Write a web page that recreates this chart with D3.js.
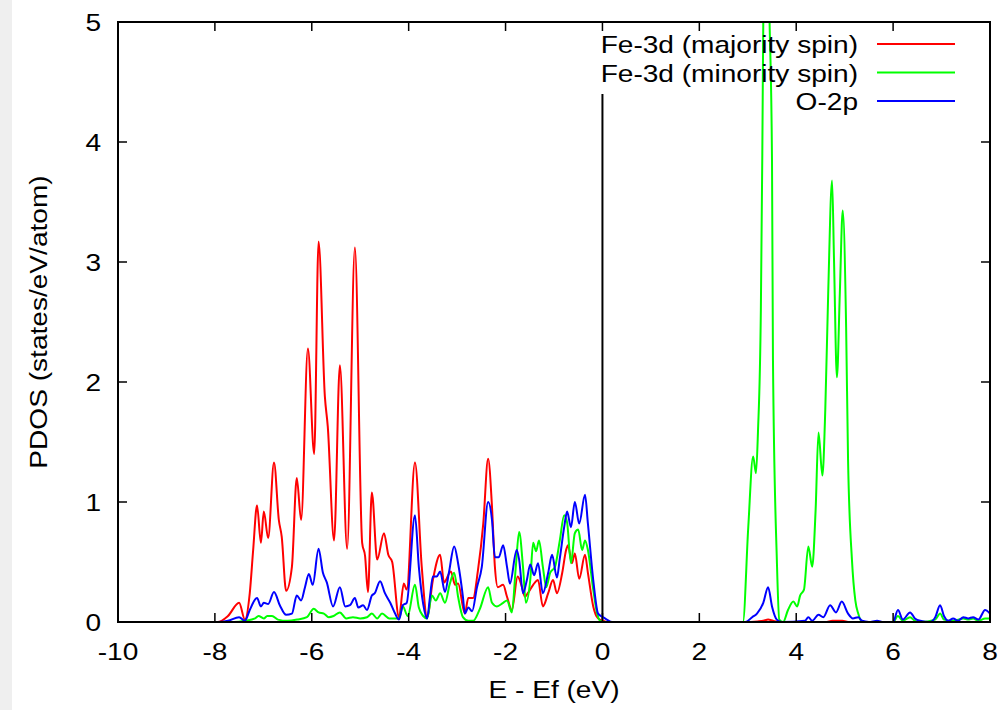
<!DOCTYPE html>
<html lang="en">
<head>
<meta charset="UTF-8"/>
<title>PDOS</title>
<script src="https://d3js.org/d3.v7.min.js"></script>
<style>
  body { margin: 0; background: #ffffff; }
  text { font-family: "Liberation Sans", Arial, Helvetica, sans-serif; fill: #000; }
</style>
</head>
<body>
<div id="chart"></div>
<script>
// Energy (eV) / PDOS pairs
var majority = [
  [-10, 0], [-7.94, 0], [-7.73, 0.05], [-7.5, 0.16], [-7.38, 0.02], [-7.28, 0.24], [-7.21, 0.6],
  [-7.13, 0.97], [-7.05, 0.66], [-6.99, 0.92], [-6.9, 0.7], [-6.78, 1.33], [-6.68, 0.85],
  [-6.62, 0.71], [-6.53, 0.26], [-6.41, 0.46], [-6.31, 1.2], [-6.22, 0.85], [-6.08, 2.28],
  [-5.95, 1.4], [-5.86, 3.17], [-5.73, 1.88], [-5.67, 1.63], [-5.54, 0.68], [-5.42, 2.14],
  [-5.27, 0.61], [-5.11, 3.12], [-4.96, 0.66], [-4.9, 0.55], [-4.84, 0.25], [-4.76, 1.08],
  [-4.65, 0.52], [-4.51, 0.74], [-4.42, 0.56], [-4.34, 0.5], [-4.2, 0.04], [-4.1, 0.32],
  [-4.04, 0.27], [-3.87, 1.33], [-3.73, 0.46], [-3.62, 0.04], [-3.5, 0.35], [-3.35, 0.56],
  [-3.27, 0.33], [-3.13, 0.42], [-3.04, 0.31], [-2.98, 0.32], [-2.84, 0.07], [-2.77, 0.2],
  [-2.67, 0.2], [-2.57, 0.43], [-2.46, 0.82], [-2.36, 1.36], [-2.28, 0.96], [-2.22, 0.46],
  [-2.16, 0.29], [-2.05, 0.31], [-1.97, 0.21], [-1.87, 0.1], [-1.75, 0.38], [-1.66, 0.29],
  [-1.6, 0.21], [-1.54, 0.24], [-1.43, 0.31], [-1.33, 0.35], [-1.23, 0.13], [-1.12, 0.24],
  [-1.02, 0.35], [-0.94, 0.24], [-0.83, 0.41], [-0.75, 0.6], [-0.71, 0.64], [-0.63, 0.49],
  [-0.57, 0.57], [-0.48, 0.36], [-0.36, 0.56], [-0.3, 0.41], [-0.19, 0.13], [-0.09, 0.03],
  [0.01, 0.01], [0.1, 0], [2.95, 0], [3.2, 0.005], [3.32, 0.01], [3.42, 0.02], [3.52, 0.01],
  [3.65, 0], [4.6, 0], [4.75, 0.01], [4.95, 0.01], [5.1, 0], [8, 0]
];

var minority = [
  [-10, 0], [-7.6, 0], [-7.38, 0.01], [-7.17, 0.03], [-7.1, 0.05], [-6.99, 0.03], [-6.92, 0.05],
  [-6.82, 0.05], [-6.7, 0.02], [-6.5, 0.01], [-6.3, 0.02], [-6.1, 0.04], [-5.96, 0.11],
  [-5.86, 0.08], [-5.75, 0.07], [-5.65, 0.04], [-5.55, 0.05], [-5.42, 0.08], [-5.29, 0.03],
  [-5.15, 0.04], [-5.0, 0.03], [-4.86, 0.04], [-4.76, 0.07], [-4.65, 0.03], [-4.55, 0.07],
  [-4.4, 0.03], [-4.2, 0.03], [-4.12, 0.13], [-4.02, 0.05], [-3.87, 0.31], [-3.79, 0.12],
  [-3.7, 0.05], [-3.62, 0.03], [-3.52, 0.22], [-3.44, 0.18], [-3.35, 0.24], [-3.25, 0.16],
  [-3.15, 0.32], [-3.06, 0.41], [-2.98, 0.21], [-2.88, 0.04], [-2.77, 0.01], [-2.67, 0.01],
  [-2.53, 0.11], [-2.36, 0.29], [-2.28, 0.16], [-2.18, 0.13], [-2.05, 0.16], [-1.97, 0.18],
  [-1.87, 0.08], [-1.79, 0.45], [-1.72, 0.75], [-1.64, 0.46], [-1.58, 0.16], [-1.49, 0.35],
  [-1.43, 0.66], [-1.37, 0.59], [-1.31, 0.68], [-1.23, 0.46], [-1.16, 0.29], [-1.08, 0.41],
  [-0.98, 0.46], [-0.88, 0.68], [-0.79, 0.89], [-0.73, 0.83], [-0.65, 0.49], [-0.57, 0.74],
  [-0.5, 0.77], [-0.42, 0.6], [-0.36, 0.68], [-0.3, 0.6], [-0.19, 0.27], [-0.11, 0.07],
  [-0.05, 0.01], [0.05, 0], [2.9, 0], [3.01, 0.79], [3.11, 1.38], [3.17, 1.24], [3.21, 1.58],
  [3.27, 2.6], [3.3, 3.9], [3.32, 5.0], [3.38, 6.2], [3.45, 5.0], [3.5, 3.85], [3.52, 2.18],
  [3.6, 0.52], [3.65, 0.02], [3.73, 0], [3.83, 0.1], [3.94, 0.17], [4.02, 0.13], [4.08, 0.22],
  [4.16, 0.27], [4.25, 0.63], [4.33, 0.46], [4.4, 0.93], [4.46, 1.58], [4.54, 1.22], [4.6, 1.77],
  [4.66, 2.74], [4.74, 3.68], [4.78, 3.02], [4.84, 2.04], [4.9, 2.74], [4.96, 3.43], [5.03, 2.46],
  [5.07, 1.35], [5.15, 0.52], [5.22, 0.18], [5.28, 0.07], [5.36, 0], [6.0, 0], [6.1, 0.05],
  [6.2, 0.01], [6.35, 0.04], [6.45, 0.01], [6.56, 0], [6.87, 0.02], [6.97, 0.07], [7.05, 0.02],
  [7.24, 0.01], [7.45, 0.03], [7.55, 0.02], [7.65, 0.03], [7.76, 0.01], [7.9, 0.03], [8, 0.03]
];

var oxygen = [
  [-10, 0], [-7.94, 0], [-7.73, 0.01], [-7.5, 0.04], [-7.38, 0.01], [-7.28, 0.1], [-7.13, 0.2],
  [-7.05, 0.13], [-6.99, 0.16], [-6.9, 0.15], [-6.78, 0.25], [-6.66, 0.14], [-6.53, 0.06],
  [-6.41, 0.07], [-6.31, 0.22], [-6.22, 0.18], [-6.14, 0.29], [-6.06, 0.4], [-5.98, 0.31],
  [-5.86, 0.61], [-5.77, 0.41], [-5.69, 0.33], [-5.56, 0.13], [-5.42, 0.29], [-5.31, 0.13],
  [-5.21, 0.14], [-5.11, 0.2], [-5.04, 0.12], [-4.94, 0.14], [-4.86, 0.1], [-4.76, 0.22],
  [-4.7, 0.24], [-4.59, 0.34], [-4.49, 0.24], [-4.38, 0.16], [-4.28, 0.07], [-4.2, 0.02],
  [-4.12, 0.14], [-4.04, 0.16], [-3.87, 0.89], [-3.79, 0.46], [-3.7, 0.15], [-3.62, 0.03],
  [-3.56, 0.21], [-3.5, 0.38], [-3.42, 0.38], [-3.35, 0.42], [-3.25, 0.25], [-3.17, 0.41],
  [-3.06, 0.63], [-2.98, 0.49], [-2.88, 0.21], [-2.84, 0.07], [-2.77, 0.12], [-2.69, 0.09],
  [-2.59, 0.29], [-2.49, 0.46], [-2.36, 1.0], [-2.28, 0.85], [-2.22, 0.54], [-2.14, 0.54],
  [-2.05, 0.64], [-1.97, 0.46], [-1.91, 0.32], [-1.77, 0.6], [-1.72, 0.52], [-1.64, 0.24],
  [-1.56, 0.35], [-1.49, 0.48], [-1.41, 0.39], [-1.33, 0.49], [-1.23, 0.24], [-1.12, 0.41],
  [-1.04, 0.56], [-0.94, 0.37], [-0.88, 0.53], [-0.79, 0.79], [-0.73, 0.92], [-0.65, 0.79],
  [-0.57, 1.0], [-0.48, 0.82], [-0.36, 1.06], [-0.3, 0.82], [-0.19, 0.35], [-0.09, 0.07],
  [0.01, 0.04], [0.09, 0.02], [0.2, 0], [2.95, 0], [3.09, 0.04], [3.19, 0.07], [3.32, 0.16],
  [3.42, 0.29], [3.5, 0.13], [3.6, 0.02], [3.7, 0], [4.18, 0.01], [4.25, 0.04], [4.33, 0.01],
  [4.46, 0.06], [4.56, 0.04], [4.7, 0.14], [4.82, 0.08], [4.94, 0.17], [5.07, 0.07], [5.17, 0.03],
  [5.28, 0.04], [5.36, 0.01], [5.5, 0], [5.67, 0.01], [5.8, 0], [6.0, 0], [6.1, 0.1], [6.2, 0.02],
  [6.35, 0.08], [6.45, 0.03], [6.56, 0.01], [6.76, 0], [6.87, 0.04], [6.97, 0.14], [7.05, 0.05],
  [7.14, 0.01], [7.24, 0.03], [7.34, 0.01], [7.45, 0.04], [7.55, 0.03], [7.65, 0.04], [7.76, 0.02],
  [7.9, 0.1], [8, 0.07]
];

var seriesNames = ["Fe-3d (majority spin)", "Fe-3d (minority spin)", "O-2p"];
var seriesColors = ["#ff0000", "#00ff00", "#0000ff"];
var xTicks = [-10, -8, -6, -4, -2, 0, 2, 4, 6, 8];
var yTicks = [0, 1, 2, 3, 4, 5];
var fermiLine = [0, 4.4];   // E = 0 marker, from 0 up to 4.4

// Layout
var width = 1003, height = 710;
var margin = {left: 118, right: 13, top: 22, bottom: 88};
var stretch = 1.17;   // the original font is wider than Liberation Sans

var x = d3.scaleLinear().domain([-10, 8]).range([margin.left, width - margin.right]);
var y = d3.scaleLinear().domain([0, 5]).range([height - margin.bottom, margin.top]);

var svg = d3.select("#chart").append("svg")
  .attr("width", width)
  .attr("height", height);

svg.append("rect").attr("width", width).attr("height", height).attr("fill", "#fff");
// light strip on the left edge
svg.append("rect").attr("width", 12).attr("height", height).attr("fill", "#efefef");

// helper: wide text (scaled along its own direction)
function wideText(px, py, str, anchor, rot) {
  return svg.append("text")
    .attr("transform", "translate(" + px + "," + py + ")" + (rot ? " rotate(" + rot + ")" : "") + " scale(" + stretch + ",1)")
    .attr("text-anchor", anchor)
    .style("font-size", "24px")
    .text(str);
}

svg.append("clipPath").attr("id", "plot-clip")
  .append("rect")
  .attr("x", x(-10)).attr("y", y(5))
  .attr("width", x(8) - x(-10)).attr("height", y(0) - y(5));

// Fermi level line
svg.append("line")
  .attr("x1", x(0)).attr("x2", x(0))
  .attr("y1", y(fermiLine[0])).attr("y2", y(fermiLine[1]))
  .attr("stroke", "#000").attr("stroke-width", 2);

// Curves
var line = d3.line()
  .x(d => x(d[0]))
  .y(d => y(d[1]))
  .curve(d3.curveMonotoneX);

var allSeries = [majority, minority, oxygen];
svg.append("g").attr("clip-path", "url(#plot-clip)")
  .selectAll("path")
  .data(allSeries)
  .enter()
  .append("path")
  .attr("d", line)
  .attr("fill", "none")
  .attr("stroke", (d, i) => seriesColors[i])
  .attr("stroke-width", 2)
  .attr("stroke-linejoin", "round");

// Ticks (inward, mirrored on all sides)
var tickLen = 9;
var tg = svg.append("g").attr("stroke", "#000").attr("stroke-width", 1.5);
xTicks.forEach(function(t) {
  tg.append("line").attr("x1", x(t)).attr("x2", x(t)).attr("y1", y(0)).attr("y2", y(0) - tickLen);
  tg.append("line").attr("x1", x(t)).attr("x2", x(t)).attr("y1", y(5)).attr("y2", y(5) + tickLen);
});
yTicks.forEach(function(t) {
  tg.append("line").attr("x1", x(-10)).attr("x2", x(-10) + tickLen).attr("y1", y(t)).attr("y2", y(t));
  tg.append("line").attr("x1", x(8)).attr("x2", x(8) - tickLen).attr("y1", y(t)).attr("y2", y(t));
});

// Frame
svg.append("rect")
  .attr("x", x(-10)).attr("y", y(5))
  .attr("width", x(8) - x(-10)).attr("height", y(0) - y(5))
  .attr("fill", "none").attr("stroke", "#000").attr("stroke-width", 2);

// Tick labels
xTicks.forEach(function(t) {
  wideText(x(t), y(0) + 38, t, "middle");
});
yTicks.forEach(function(t) {
  wideText(x(-10) - 17, y(t) + 8.5, t, "end");
});

// Axis titles
wideText((x(-10) + x(8)) / 2, 698, "E - Ef (eV)", "middle");
wideText(47, (y(0) + y(5)) / 2, "PDOS (states/eV/atom)", "middle", -90);

// Legend
seriesNames.forEach(function(name, i) {
  var ly = 44 + i * 28.5;
  wideText(858, ly + 9, name, "end");
  svg.append("line")
    .attr("x1", 877).attr("x2", 955)
    .attr("y1", ly).attr("y2", ly)
    .attr("stroke", seriesColors[i]).attr("stroke-width", 2);
});
</script>
</body>
</html>
